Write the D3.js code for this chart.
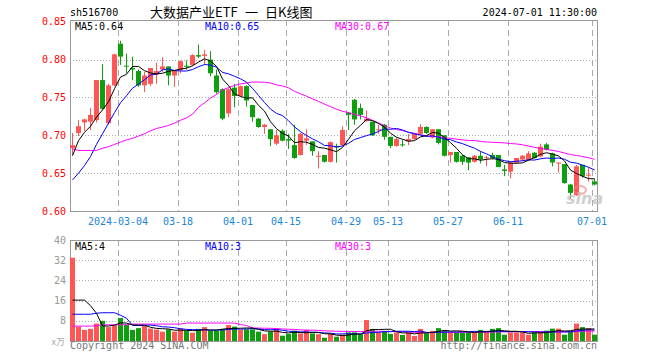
<!DOCTYPE html>
<html>
<head>
<meta charset="utf-8">
<title>sh516700 日K线图</title>
<script src="https://cdn.jsdelivr.net/npm/d3@7"></script>
<style>
    body { margin: 0; background: #fff; }
    svg { display: block; }
    .mono { font-family: "DejaVu Sans Mono", monospace; font-size: 10px; }
    .cjk { font-family: "Noto Sans CJK SC", sans-serif; font-size: 13px; }
</style>
</head>
<body>
<svg id="chart" width="660" height="360"></svg>
<script>
// trading days shown in the chart
var dates = [
    "2024-02-21","2024-02-22","2024-02-23","2024-02-26","2024-02-27","2024-02-28","2024-02-29",
    "2024-03-01","2024-03-04","2024-03-05","2024-03-06","2024-03-07","2024-03-08",
    "2024-03-11","2024-03-12","2024-03-13","2024-03-14","2024-03-15",
    "2024-03-18","2024-03-19","2024-03-20","2024-03-21","2024-03-22",
    "2024-03-25","2024-03-26","2024-03-27","2024-03-28","2024-03-29",
    "2024-04-01","2024-04-02","2024-04-03",
    "2024-04-08","2024-04-09","2024-04-10","2024-04-11","2024-04-12",
    "2024-04-15","2024-04-16","2024-04-17","2024-04-18","2024-04-19",
    "2024-04-22","2024-04-23","2024-04-24","2024-04-25","2024-04-26",
    "2024-04-29","2024-04-30",
    "2024-05-06","2024-05-07","2024-05-08","2024-05-09","2024-05-10",
    "2024-05-13","2024-05-14","2024-05-15","2024-05-16","2024-05-17",
    "2024-05-20","2024-05-21","2024-05-22","2024-05-23","2024-05-24",
    "2024-05-27","2024-05-28","2024-05-29","2024-05-30","2024-05-31",
    "2024-06-03","2024-06-04","2024-06-05","2024-06-06","2024-06-07",
    "2024-06-11","2024-06-12","2024-06-13","2024-06-14",
    "2024-06-17","2024-06-18","2024-06-19","2024-06-20","2024-06-21",
    "2024-06-24","2024-06-25","2024-06-26","2024-06-27","2024-06-28",
    "2024-07-01"
];
var opens = [0.683,0.703,0.717,0.718,0.720,0.773,0.716,0.766,0.821,0.792,0.789,0.785,0.766,0.768,0.780,0.787,0.791,0.779,0.786,0.792,
    0.793,0.806,0.805,0.800,0.779,0.761,0.729,0.763,0.752,0.765,0.740,0.722,0.711,0.708,0.689,0.706,0.695,0.687,0.674,0.693,
    0.692,0.672,0.674,0.665,0.686,0.687,0.730,0.747,0.736,0.719,0.718,0.707,0.714,0.698,0.686,0.688,0.692,0.695,0.702,0.711,
    0.697,0.708,0.700,0.674,0.678,0.673,0.671,0.665,0.673,0.670,0.674,0.674,0.655,0.652,0.664,0.668,0.667,0.677,0.672,0.688,
    0.676,0.663,0.662,0.635,0.621,0.661,0.647,0.639];
var highs = [0.703,0.720,0.722,0.736,0.773,0.794,0.768,0.808,0.825,0.808,0.804,0.787,0.784,0.789,0.796,0.803,0.791,0.786,0.799,0.799,
    0.807,0.820,0.813,0.811,0.787,0.762,0.762,0.768,0.766,0.766,0.740,0.723,0.715,0.708,0.707,0.708,0.702,0.714,0.703,0.708,
    0.692,0.679,0.674,0.692,0.689,0.712,0.731,0.748,0.742,0.733,0.718,0.714,0.715,0.698,0.697,0.694,0.702,0.703,0.715,0.712,
    0.708,0.708,0.700,0.678,0.678,0.674,0.671,0.674,0.679,0.673,0.677,0.674,0.661,0.665,0.670,0.674,0.679,0.678,0.689,0.690,
    0.677,0.664,0.662,0.636,0.661,0.661,0.658,0.643];
var lows = [0.674,0.699,0.706,0.707,0.717,0.733,0.714,0.765,0.793,0.782,0.773,0.764,0.757,0.765,0.768,0.784,0.766,0.764,0.782,0.787,
    0.792,0.802,0.793,0.778,0.755,0.720,0.724,0.737,0.751,0.738,0.718,0.710,0.702,0.686,0.687,0.692,0.682,0.669,0.673,0.687,
    0.673,0.656,0.664,0.664,0.664,0.686,0.707,0.714,0.721,0.718,0.699,0.702,0.694,0.683,0.685,0.685,0.687,0.694,0.701,0.702,
    0.696,0.688,0.672,0.664,0.664,0.661,0.654,0.664,0.663,0.659,0.668,0.658,0.646,0.643,0.663,0.666,0.666,0.669,0.671,0.680,
    0.659,0.651,0.636,0.616,0.620,0.644,0.639,0.634];
var closes = [0.687,0.712,0.721,0.727,0.773,0.735,0.766,0.807,0.804,0.791,0.787,0.766,0.779,0.789,0.785,0.791,0.779,0.785,0.798,0.791,
    0.806,0.804,0.807,0.782,0.757,0.722,0.761,0.752,0.765,0.746,0.724,0.711,0.714,0.695,0.700,0.693,0.693,0.670,0.702,0.696,
    0.679,0.673,0.665,0.691,0.684,0.707,0.727,0.721,0.727,0.722,0.700,0.708,0.698,0.686,0.695,0.687,0.695,0.702,0.711,0.703,
    0.708,0.690,0.673,0.678,0.665,0.665,0.664,0.673,0.668,0.671,0.670,0.658,0.653,0.664,0.670,0.673,0.676,0.670,0.685,0.681,
    0.664,0.664,0.637,0.624,0.659,0.646,0.648,0.635];
// volume, 万手
var volumes = [33.0,5.7,4.4,4.8,6.9,8.0,5.5,6.3,9.1,6.6,4.4,5.1,6.1,4.9,4.5,3.7,4.6,3.7,5.0,4.0,
    3.3,4.8,5.5,4.1,4.1,4.8,6.3,5.7,4.4,4.6,4.6,3.7,2.7,3.7,4.8,2.1,2.8,4.1,3.0,4.4,
    3.0,2.7,1.3,2.8,1.7,2.5,3.4,3.4,2.7,8.3,4.8,3.4,4.0,2.8,3.4,2.4,3.4,2.0,4.8,3.0,
    4.0,5.1,4.2,3.4,3.4,3.4,3.4,3.4,4.4,3.4,4.8,5.1,2.5,3.4,3.4,3.4,2.5,3.4,3.4,4.1,
    4.9,4.9,2.5,3.8,6.9,5.5,5.1,2.5];

// moving-average values before a full window exists
var ma5Head = [0.673,0.693,0.704,0.712];
var ma10Head = [0.641,0.650,0.660,0.672,0.688,0.702,0.716,0.730,0.743];
var ma30Head = [0.682,0.680,0.680,0.680,0.680,0.683,0.685,0.688,0.691,0.694,0.696,0.699,0.702,0.706,0.709,
    0.711,0.713,0.716,0.720,0.723,0.728,0.737,0.743,0.749,0.754,0.760,0.763,0.766,0.768];
var volMa5Head = [16.2,16.2,16.2,14.0];
var volMa10Head = [10.6,10.6,10.6,10.6,11.0,11.2,11.2,11.2,10.2];
var volMa30Head = [5.9,5.9,5.9,5.9,6.1,6.4,6.4,6.4,6.4,6.4,6.7,6.7,6.7,6.7,6.7,
    6.7,6.7,6.7,6.7,7.1,7.1,7.1,7.1,7.1,7.1,7.1,7.1,7.1,6.5];

var priceTicks = [0.60,0.65,0.70,0.75,0.80,0.85];
var volTicks = [8,16,24,32,40];
var dateTicks = ["2024-03-04","2024-03-18","2024-04-01","2024-04-15","2024-04-29","2024-05-13","2024-05-27","2024-06-11","2024-07-01"];
var dateTickLabels = ["2024-03-04","03-18","04-01","04-15","04-29","05-13","05-27","06-11","07-01"];
var priceMaLabels = ["MA5:0.64","MA10:0.65","MA30:0.67"];
var volMaLabels = ["MA5:4","MA10:3","MA30:3"];

var RED = "#ff5656", GREEN = "#0d9f0d", GRID = "#aaaaaa", FRAME = "#999999";
var maColors = ["#000000", "#0000ff", "#ff00ff"];

var svg = d3.select("#chart");
var left = 70, right = 597;

var x = d3.scaleBand().domain(dates).range([left, right]).paddingInner(1 / 6).paddingOuter(0);
var y = d3.scaleLinear().domain([0.60, 0.85]).range([211, 21.8]);
var yv = d3.scaleLinear().domain([0, 40]).range([341, 240]);

function ma(values, n, head) {
    return values.map(function(v, i) {
        if (i < n - 1) return head[i];
        return d3.mean(values.slice(i - n + 1, i + 1));
    });
}

function drawGrid(top, bottom, yScale, ticks, skip) {
    var g = svg.append("g");
    // horizontal dotted lines
    ticks.filter(function(t) { return skip.indexOf(t) < 0; }).forEach(function(t) {
        var yy = Math.round(yScale(t)) + 0.5;
        g.append("line").attr("x1", left).attr("x2", right).attr("y1", yy).attr("y2", yy)
            .attr("stroke", GRID).attr("stroke-dasharray", "1,2");
    });
    // vertical dashed lines
    dateTicks.forEach(function(d) {
        var xx = Math.round(x(d)) + 0.5;
        g.append("line").attr("x1", xx).attr("x2", xx).attr("y1", top).attr("y2", bottom)
            .attr("stroke", GRID).attr("stroke-dasharray", "6,4");
    });
    g.append("rect").attr("x", left + 0.5).attr("y", top + 0.5)
        .attr("width", right - left).attr("height", bottom - top)
        .attr("fill", "none").attr("stroke", FRAME);
}

drawGrid(20, 211, y, priceTicks, [0.60, 0.85]);
drawGrid(240, 341, yv, volTicks, [40]);

// header
svg.append("text").attr("class", "mono").attr("x", 70).attr("y", 16).text("sh516700");
svg.append("text").attr("class", "cjk").attr("x", 150).attr("y", 17).text("大数据产业ETF");
svg.append("text").attr("class", "cjk").attr("x", 245).attr("y", 17).text("一");
svg.append("text").attr("class", "cjk").attr("x", 265).attr("y", 17).text("日K线图");
svg.append("text").attr("class", "mono").attr("x", 597).attr("y", 16).attr("text-anchor", "end")
    .text("2024-07-01 11:30:00");

// price axis labels
svg.append("g").selectAll("text").data(priceTicks).enter().append("text")
    .attr("class", "mono").attr("x", 66).attr("y", function(d) { return y(d) + 3.5; })
    .attr("text-anchor", "end").attr("fill", "#ff0000")
    .text(function(d) { return d3.format(".2f")(d); });

// volume axis labels
svg.append("g").selectAll("text").data(volTicks).enter().append("text")
    .attr("class", "mono").attr("x", 66).attr("y", function(d) { return yv(d) + 3.5; })
    .attr("text-anchor", "end").attr("fill", "#999999")
    .text(function(d) { return d; });
svg.append("text").attr("x", 65).attr("y", 345).attr("text-anchor", "end")
    .attr("fill", "#aaaaaa").style("font-family", "'Noto Sans CJK SC', sans-serif").style("font-size", "9px")
    .text("x万");

// date labels
svg.append("g").selectAll("text").data(dateTicks).enter().append("text")
    .attr("class", "mono").attr("x", function(d) { return x(d); }).attr("y", 225)
    .attr("text-anchor", "middle").attr("fill", "#1d86d6")
    .text(function(d, i) { return dateTickLabels[i]; });

// candles
var idx = d3.range(dates.length);
var bw = x.bandwidth();
var candles = svg.append("g");
candles.selectAll("rect.wick").data(idx).enter().append("rect").attr("class", "wick")
    .attr("x", function(i) { return x(dates[i]) + 2; })
    .attr("y", function(i) { return y(highs[i]); })
    .attr("width", 1)
    .attr("height", function(i) { return Math.max(1, y(lows[i]) - y(highs[i])); })
    .attr("fill", function(i) { return closes[i] >= opens[i] ? RED : GREEN; });
candles.selectAll("rect.body").data(idx).enter().append("rect").attr("class", "body")
    .attr("x", function(i) { return x(dates[i]); })
    .attr("y", function(i) { return y(Math.max(opens[i], closes[i])); })
    .attr("width", bw)
    .attr("height", function(i) { return Math.max(1, Math.abs(y(opens[i]) - y(closes[i]))); })
    .attr("fill", function(i) { return closes[i] >= opens[i] ? RED : GREEN; });

// volume bars
svg.append("g").selectAll("rect").data(idx).enter().append("rect")
    .attr("x", function(i) { return x(dates[i]); })
    .attr("y", function(i) { return yv(volumes[i]); })
    .attr("width", bw)
    .attr("height", function(i) { return yv(0) - yv(volumes[i]); })
    .attr("fill", function(i) { return closes[i] >= opens[i] ? RED : GREEN; });

// moving averages, MA30 drawn first so MA5 sits on top
var priceMas = [ma(closes, 5, ma5Head), ma(closes, 10, ma10Head), ma(closes, 30, ma30Head)];
var volMas = [ma(volumes, 5, volMa5Head), ma(volumes, 10, volMa10Head), ma(volumes, 30, volMa30Head)];

function drawMas(series, scale) {
    var g = svg.append("g");
    var line = d3.line()
        .x(function(v, i) { return x(dates[i]) + bw / 2; })
        .y(function(v) { return scale(v); });
    for (var k = series.length - 1; k >= 0; k--) {
        g.append("path").attr("d", line(series[k])).attr("fill", "none")
            .attr("stroke", maColors[k]).attr("stroke-width", 1);
    }
}
drawMas(priceMas, y);
drawMas(volMas, yv);

// MA legends
var legendX = [75, 205, 335];
priceMaLabels.forEach(function(t, k) {
    svg.append("text").attr("class", "mono").attr("x", legendX[k]).attr("y", 30)
        .attr("fill", maColors[k]).text(t);
});
volMaLabels.forEach(function(t, k) {
    svg.append("text").attr("class", "mono").attr("x", legendX[k]).attr("y", 250)
        .attr("fill", maColors[k]).text(t);
});

// watermark
svg.append("ellipse").attr("cx", 580).attr("cy", 190).attr("rx", 6).attr("ry", 4)
    .attr("fill", "none").attr("stroke", "#f08080").attr("stroke-width", 2).attr("opacity", 0.6);
svg.append("text").attr("x", 566).attr("y", 204)
    .style("font-family", "'DejaVu Sans', sans-serif").style("font-size", "16px")
    .style("font-style", "italic").style("font-weight", "bold")
    .attr("fill", "#c8c8c8").attr("opacity", 0.85).text("sina");

// footer
svg.append("text").attr("class", "mono").attr("x", 70).attr("y", 349).attr("fill", "#777").text("Copyright 2024 SINA.COM");
svg.append("text").attr("class", "mono").attr("x", 597).attr("y", 349).attr("text-anchor", "end")
    .attr("fill", "#777").text("http://finance.sina.com.cn");
</script>
</body>
</html>
